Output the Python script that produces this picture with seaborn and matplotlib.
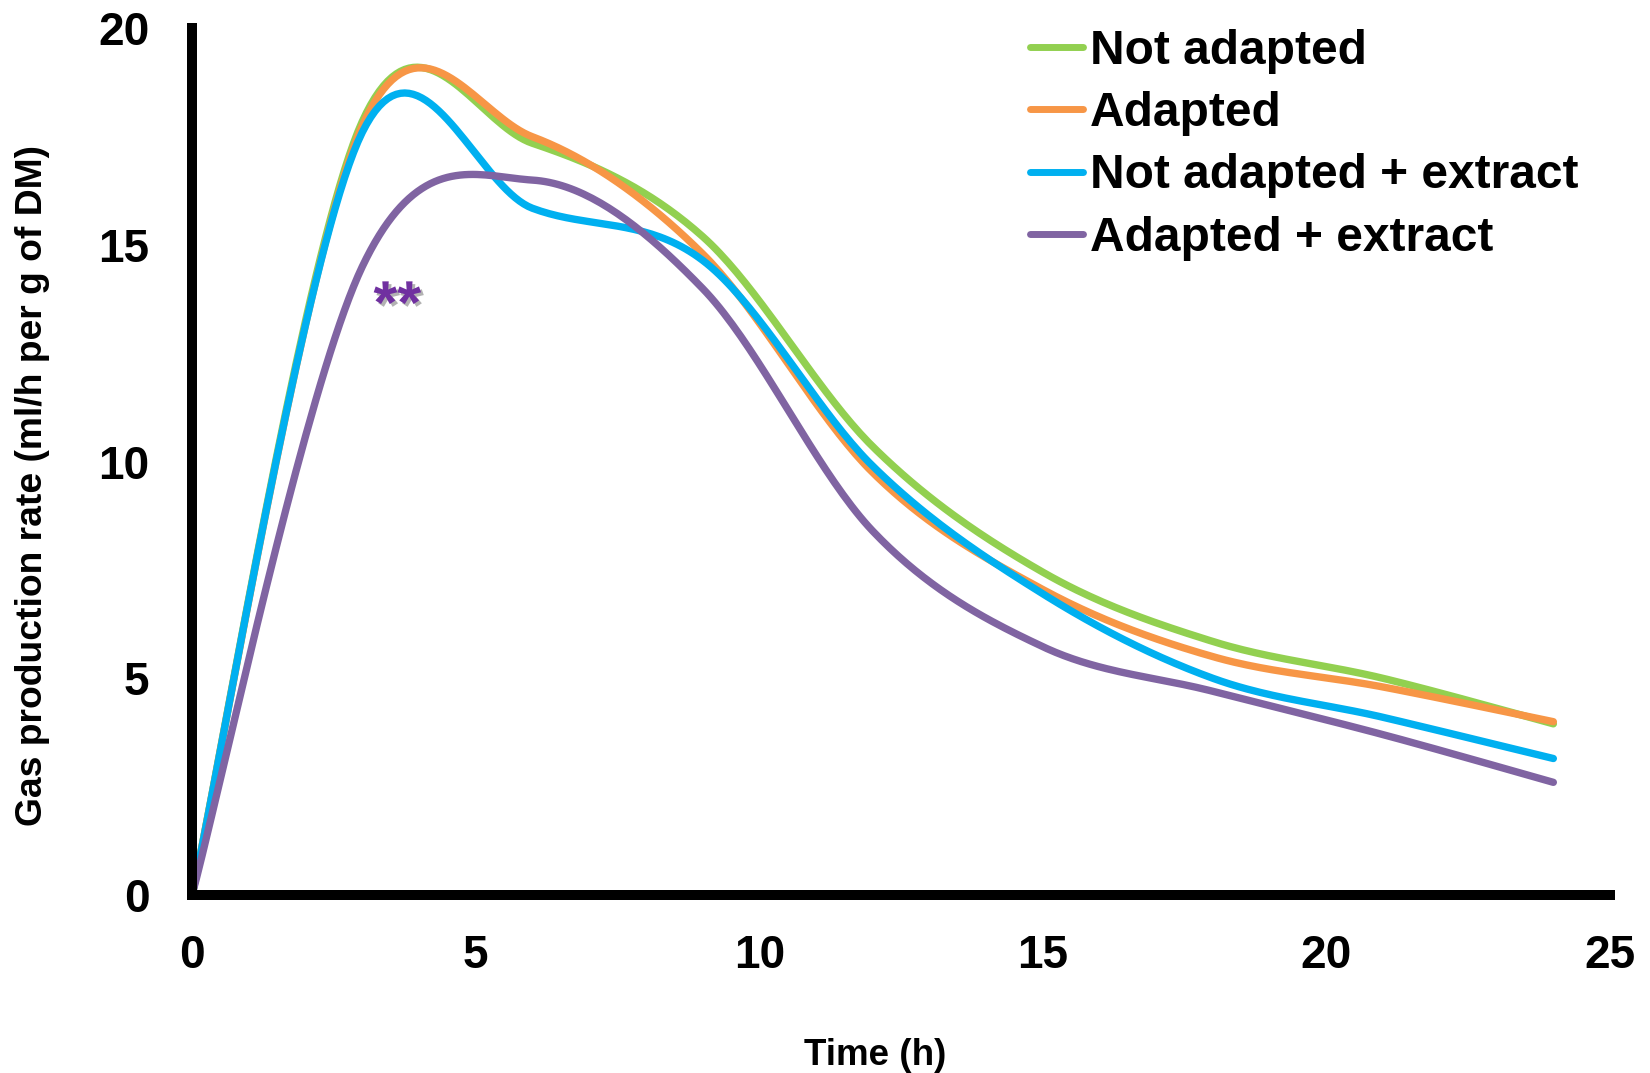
import numpy as np
import pandas as pd
import matplotlib
matplotlib.use("Agg")
import matplotlib.pyplot as plt
import matplotlib.patheffects as pe
import seaborn as sns

# ---- data ----
time_h = [0, 3, 6, 9, 12, 15, 18, 21, 24]
not_adapted = [0, 17.85, 17.35, 15.2, 10.35, 7.45, 5.85, 5.0, 3.95]
adapted = [0, 17.75, 17.5, 14.8, 9.75, 7.05, 5.5, 4.8, 4.0]
not_adapted_extract = [0, 17.6, 15.85, 14.65, 9.9, 6.95, 5.0, 4.1, 3.15]
adapted_extract = [0, 14.5, 16.5, 14.0, 8.4, 5.73, 4.7, 3.7, 2.6]

series_names = ["Not adapted", "Adapted", "Not adapted + extract", "Adapted + extract"]
series_values = [not_adapted, adapted, not_adapted_extract, adapted_extract]
series_colors = ["#92D050", "#F79646", "#00B0F0", "#8064A2"]
x_ticks = [0, 5, 10, 15, 20, 25]
y_ticks = [0, 5, 10, 15, 20]
x_label = "Time (h)"
y_label = "Gas production rate (ml/h per g of DM)"
annotation_text = "**"


def smooth_curve(x, y, n=40):
    """Excel-style smoothed line (Catmull-Rom Bezier through the data points)."""
    P = np.column_stack([x, y]).astype(float)
    m = len(P)
    out = []
    for i in range(m - 1):
        p0 = P[max(i - 1, 0)]
        p1 = P[i]
        p2 = P[i + 1]
        p3 = P[min(i + 2, m - 1)]
        c1 = p1 + (p2 - p0) / 6.0
        c2 = p2 - (p3 - p1) / 6.0
        s = np.linspace(0, 1, n, endpoint=(i == m - 2))[:, None]
        seg = ((1 - s) ** 3) * p1 + 3 * ((1 - s) ** 2) * s * c1 + 3 * (1 - s) * s ** 2 * c2 + s ** 3 * p2
        out.append(seg)
    out = np.vstack(out)
    return out[:, 0], out[:, 1]


sns.set_theme(style="white")
plt.rcParams["font.family"] = ["Liberation Sans", "DejaVu Sans"]
plt.rcParams["font.weight"] = "bold"

fig = plt.figure(figsize=(16.5, 10.73), dpi=100)
ax = fig.add_axes([0.1164, 0.1659, 0.8594, 0.8076])

for name, vals, col in zip(series_names, series_values, series_colors):
    sx, sy = smooth_curve(time_h, vals)
    df = pd.DataFrame({"t": sx, "v": sy})
    sns.lineplot(data=df, x="t", y="v", ax=ax, color=col, linewidth=5.3,
                 sort=False, estimator=None, label=name,
                 solid_capstyle="round", solid_joinstyle="round")

ax.set_xlim(0, 25)
ax.set_ylim(0, 20)
ax.set_xticks(x_ticks)
ax.set_yticks(y_ticks)
ax.set_xticklabels([str(v) for v in x_ticks])
ax.set_yticklabels([str(v) for v in y_ticks])

for side in ["top", "right"]:
    ax.spines[side].set_visible(False)
for side in ["left", "bottom"]:
    ax.spines[side].set_linewidth(7.2)
    ax.spines[side].set_color("black")
    ax.spines[side].set_capstyle("projecting")

ax.tick_params(axis="both", which="major", direction="out", length=10.8, width=7.4,
               color="black", labelsize=33, labelcolor="black")
ax.tick_params(axis="x", pad=17)
ax.tick_params(axis="y", pad=20)
for lab in ax.get_xticklabels() + ax.get_yticklabels():
    lab.set_fontweight("bold")

ax.set_xlabel(x_label, fontsize=26.5, fontweight="bold", color="black")
ax.set_ylabel(y_label, fontsize=26.8, fontweight="bold", color="black")
ax.xaxis.set_label_coords(0.482, -0.165)
ax.yaxis.set_label_coords(-0.1005, 0.472)

ax.text(3.62, 13.55, annotation_text, color="#7030A0", fontsize=44, fontweight="bold",
        ha="center", va="center",
        path_effects=[pe.withSimplePatchShadow(offset=(2, -2), shadow_rgbFace="#808080", alpha=0.6)])

ax.grid(False)
ax.set_facecolor("white")

leg = ax.legend(loc="upper left", bbox_to_anchor=(1030 / 1650, 1 - 29 / 1073),
                bbox_transform=fig.transFigure, frameon=False, fontsize=34.5,
                handlelength=1.1, handletextpad=0.15, labelspacing=0.36,
                borderpad=0, borderaxespad=0)
for txt in leg.get_texts():
    txt.set_fontweight("bold")
    txt.set_color("black")
for ln in leg.get_lines():
    ln.set_linewidth(5.0)
    ln.set_solid_capstyle("round")

fig.savefig("out.png", dpi=100, facecolor="white")
